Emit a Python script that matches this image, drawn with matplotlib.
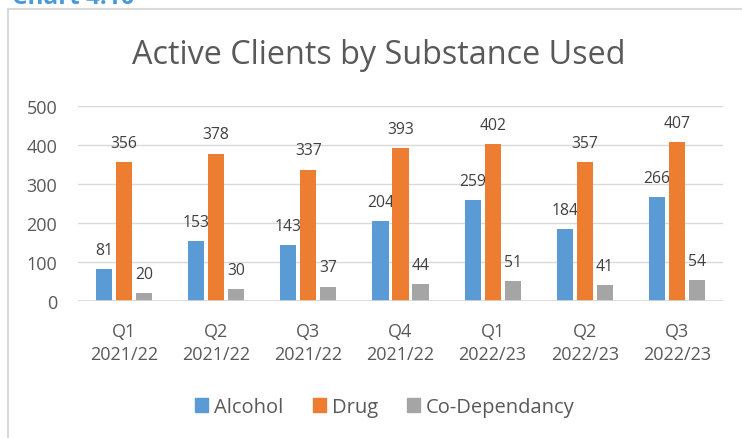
import numpy as np
import matplotlib.pyplot as plt
from matplotlib.lines import Line2D

quarters = ["Q1\n2021/22", "Q2\n2021/22", "Q3\n2021/22", "Q4\n2021/22",
            "Q1\n2022/23", "Q2\n2022/23", "Q3\n2022/23"]
alcohol = [81, 153, 143, 204, 259, 184, 266]
drug = [356, 378, 337, 393, 402, 357, 407]
co_dependancy = [20, 30, 37, 44, 51, 41, 54]

series_names = ["Alcohol", "Drug", "Co-Dependancy"]
colors = ["#5b9bd5", "#ed7d31", "#a5a5a5"]
TEXT = "#595959"
GRID = "#d9d9d9"

plt.rcParams["font.family"] = ["Open Sans", "DejaVu Sans"]

W, H = 742, 439
fig = plt.figure(figsize=(W / 100, H / 100), dpi=100)

# plot area in pixels
left, right, top, bottom = 78, 723, 107, 302
ax = fig.add_axes([left / W, 1 - bottom / H, (right - left) / W, (bottom - top) / H])

x = np.arange(len(quarters))
bw = 0.175
step = 0.217
for i, (vals, c, name) in enumerate(zip([alcohol, drug, co_dependancy], colors, series_names)):
    pos = x + (i - 1) * step
    ax.bar(pos, vals, width=bw, color=c, label=name, zorder=3)
    for p, v in zip(pos, vals):
        ax.annotate(str(v), (p, v), xytext=(0, 8), textcoords="offset points",
                    ha="center", va="bottom", fontsize=11.3, color="#404040")

ax.set_xlim(-0.5, len(quarters) - 0.5)
ax.set_ylim(0, 500)
ax.set_yticks(range(0, 501, 100))
ax.grid(axis="y", color=GRID, linewidth=1, zorder=0)
for s in ax.spines.values():
    s.set_visible(False)
ax.axhline(0, color=GRID, linewidth=1.2, zorder=4)
ax.tick_params(length=0, labelsize=13, colors=TEXT)
ax.tick_params(axis="y", pad=15)
ax.tick_params(axis="x", pad=15)
ax.set_xticks(x)
ax.set_xticklabels(quarters, linespacing=1.4)

fig.text(379 / W, 1 - 56 / H, "Active Clients by Substance Used", ha="center", va="center",
         fontsize=23.3, color=TEXT)

handles = [plt.Rectangle((0, 0), 1, 1, color=c) for c in colors]
fig.legend(handles, series_names, loc="center", bbox_to_anchor=(385 / W, 1 - 408 / H),
           ncol=3, frameon=False, fontsize=14.5, handlelength=0.65, handleheight=0.65,
           handletextpad=0.3, columnspacing=1.45, labelcolor=TEXT)

# chart frame (cropped on the right and bottom)
fig.add_artist(Line2D([8 / W, 1], [1 - 9.5 / H, 1 - 9.5 / H], color=GRID, linewidth=1.5,
                      transform=fig.transFigure))
fig.add_artist(Line2D([8 / W, 8 / W], [0, 1 - 9.5 / H], color=GRID, linewidth=1.5,
                      transform=fig.transFigure))

# caption above the chart, mostly cropped off
fig.text(12 / W, 1 - 4 / H, "Chart 4.10", ha="left", va="baseline", fontsize=17.5,
         fontweight="bold", color="#4a9ad9")

fig.savefig("out.png", dpi=100)
